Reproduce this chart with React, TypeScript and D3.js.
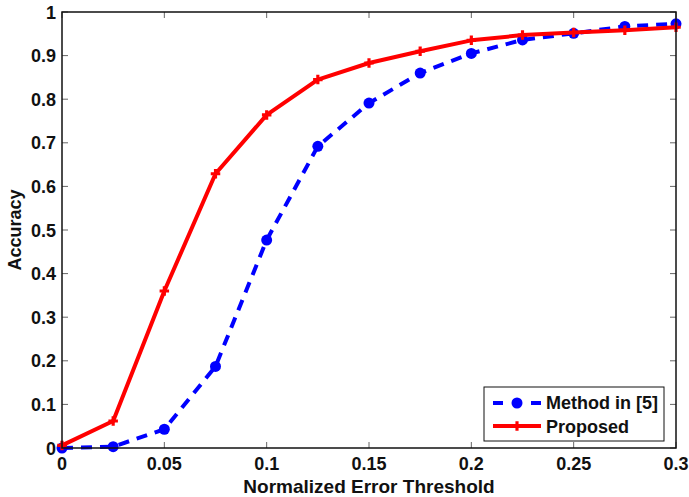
import React, { useRef, useEffect } from "react";
import * as d3 from "d3";

const thresholds = [0, 0.025, 0.05, 0.075, 0.1, 0.125, 0.15, 0.175, 0.2, 0.225, 0.25, 0.275, 0.3];
const method5 = [0, 0.003, 0.043, 0.187, 0.477, 0.692, 0.791, 0.86, 0.905, 0.936, 0.951, 0.967, 0.973];
const proposed = [0.006, 0.062, 0.36, 0.629, 0.764, 0.845, 0.883, 0.91, 0.935, 0.947, 0.953, 0.958, 0.965];
const xTicks = [0, 0.05, 0.1, 0.15, 0.2, 0.25, 0.3];
const yTicks = [0, 0.1, 0.2, 0.3, 0.4, 0.5, 0.6, 0.7, 0.8, 0.9, 1];

const W = 689;
const H = 497;
const margin = { top: 12, right: 13, bottom: 49, left: 62 };
const FONT = "Arial, 'Liberation Sans', sans-serif";

const App = () => {
  const svgRef = useRef<SVGSVGElement>(null);

  useEffect(() => {
    const svg = d3.select(svgRef.current);
    svg.selectAll("*").remove();

    const x = d3.scaleLinear().domain([0, 0.3]).range([margin.left, W - margin.right]);
    const y = d3.scaleLinear().domain([0, 1]).range([H - margin.bottom, margin.top]);

    svg.append("rect").attr("width", W).attr("height", H).attr("fill", "#fff");

    const x0 = x(0), x1 = x(0.3), y0 = y(0), y1 = y(1);
    const tickLen = 6;

    // ticks (inside, all four sides)
    const ticks = svg.append("g").attr("stroke", "#666").attr("stroke-width", 1);
    xTicks.forEach((t) => {
      ticks.append("line").attr("x1", x(t)).attr("x2", x(t)).attr("y1", y0).attr("y2", y0 - tickLen);
      ticks.append("line").attr("x1", x(t)).attr("x2", x(t)).attr("y1", y1).attr("y2", y1 + tickLen);
    });
    yTicks.forEach((t) => {
      ticks.append("line").attr("x1", x0).attr("x2", x0 + tickLen).attr("y1", y(t)).attr("y2", y(t));
      ticks.append("line").attr("x1", x1).attr("x2", x1 - tickLen).attr("y1", y(t)).attr("y2", y(t));
    });

    // tick labels
    svg.append("g")
      .selectAll("text")
      .data(xTicks)
      .join("text")
      .attr("x", (d) => x(d))
      .attr("y", y0 + 22)
      .attr("text-anchor", "middle")
      .attr("font-family", FONT)
      .attr("font-weight", "bold")
      .attr("font-size", 18)
      .attr("fill", "#111")
      .text((d) => String(d));

    svg.append("g")
      .selectAll("text")
      .data(yTicks)
      .join("text")
      .attr("x", x0 - 6)
      .attr("y", (d) => y(d) + 6.5)
      .attr("text-anchor", "end")
      .attr("font-family", FONT)
      .attr("font-weight", "bold")
      .attr("font-size", 18)
      .attr("fill", "#111")
      .text((d) => String(d));

    // axis titles
    svg.append("text")
      .attr("x", (x0 + x1) / 2)
      .attr("y", H - 4)
      .attr("text-anchor", "middle")
      .attr("font-family", FONT)
      .attr("font-weight", "bold")
      .attr("font-size", 19)
      .attr("fill", "#111")
      .text("Normalized Error Threshold");

    svg.append("text")
      .attr("transform", `translate(21,${(y0 + y1) / 2}) rotate(-90)`)
      .attr("text-anchor", "middle")
      .attr("font-family", FONT)
      .attr("font-weight", "bold")
      .attr("font-size", 18)
      .attr("fill", "#111")
      .text("Accuracy");

    const line = d3.line<number>().x((_, i) => x(thresholds[i])).y((d) => y(d));

    // Method in [5]
    svg.append("path")
      .datum(method5)
      .attr("d", line)
      .attr("fill", "none")
      .attr("stroke", "#0000ff")
      .attr("stroke-width", 4)
      .attr("stroke-dasharray", "11,8");
    svg.append("g")
      .selectAll("circle")
      .data(method5)
      .join("circle")
      .attr("cx", (_, i) => x(thresholds[i]))
      .attr("cy", (d) => y(d))
      .attr("r", 5.5)
      .attr("fill", "#0000ff");

    // Proposed
    svg.append("path")
      .datum(proposed)
      .attr("d", line)
      .attr("fill", "none")
      .attr("stroke", "#ff0000")
      .attr("stroke-width", 4)
      .attr("stroke-linejoin", "round");
    const star = d3.symbol().type(d3.symbolCross).size(50);
    svg.append("g")
      .selectAll("path")
      .data(proposed)
      .join("path")
      .attr("transform", (d, i) => `translate(${x(thresholds[i])},${y(d)})`)
      .attr("d", star)
      .attr("fill", "#ff0000");

    // frame
    svg.append("rect")
      .attr("x", x0)
      .attr("y", y1)
      .attr("width", x1 - x0)
      .attr("height", y0 - y1)
      .attr("fill", "none")
      .attr("stroke", "#111")
      .attr("stroke-width", 1.5);

    // legend
    const lg = svg.append("g").attr("transform", "translate(484,387)");
    lg.append("rect")
      .attr("width", 180)
      .attr("height", 54)
      .attr("fill", "#fff")
      .attr("stroke", "#111")
      .attr("stroke-width", 1);
    lg.append("line")
      .attr("x1", 9).attr("x2", 57).attr("y1", 16).attr("y2", 16)
      .attr("stroke", "#0000ff").attr("stroke-width", 4).attr("stroke-dasharray", "10,9");
    lg.append("circle").attr("cx", 33).attr("cy", 16).attr("r", 5.5).attr("fill", "#0000ff");
    lg.append("line")
      .attr("x1", 9).attr("x2", 57).attr("y1", 39).attr("y2", 39)
      .attr("stroke", "#ff0000").attr("stroke-width", 4);
    lg.append("path").attr("transform", "translate(33,39)").attr("d", star).attr("fill", "#ff0000");
    lg.append("text")
      .attr("x", 62).attr("y", 22)
      .attr("font-family", FONT).attr("font-weight", "bold").attr("font-size", 18).attr("fill", "#111")
      .text("Method in [5]");
    lg.append("text")
      .attr("x", 62).attr("y", 46)
      .attr("font-family", FONT).attr("font-weight", "bold").attr("font-size", 18).attr("fill", "#111")
      .text("Proposed");
  }, []);

  return (
    <svg
      ref={svgRef}
      width={W}
      height={H}
      style={{ position: "absolute", left: 0, top: 0, display: "block" }}
    />
  );
};

export default App;
